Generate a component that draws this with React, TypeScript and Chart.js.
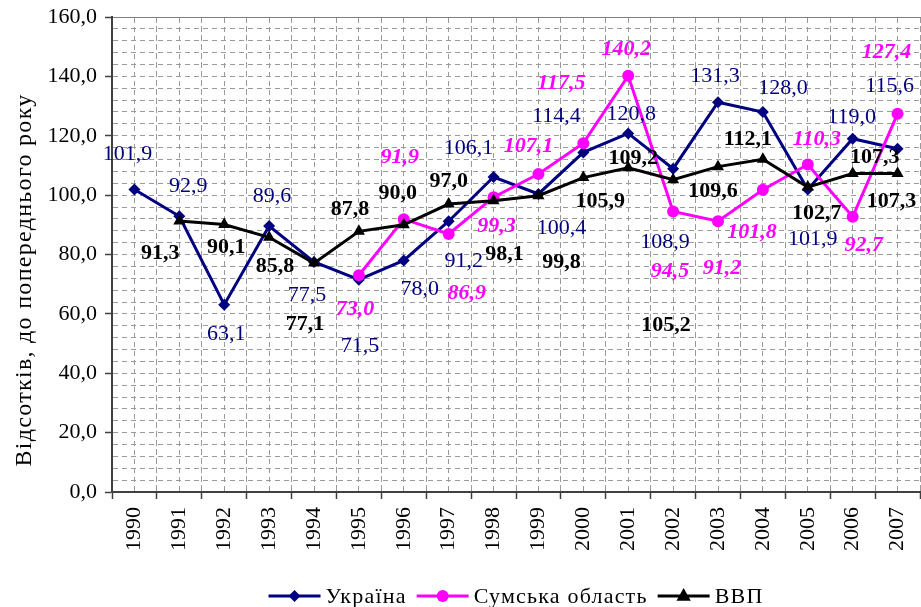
import React, { useEffect, useRef } from 'react';
import { Chart, registerables } from 'chart.js';

Chart.register(...registerables);

const years = ['1990', '1991', '1992', '1993', '1994', '1995', '1996', '1997', '1998', '1999', '2000', '2001', '2002', '2003', '2004', '2005', '2006', '2007'];

const ukraine = [101.9, 92.9, 63.1, 89.6, 77.5, 71.5, 78.0, 91.2, 106.1, 100.4, 114.4, 120.8, 108.9, 131.3, 128.0, 101.9, 119.0, 115.6];
const sumy = [null, null, null, null, null, 73.0, 91.9, 86.9, 99.3, 107.1, 117.5, 140.2, 94.5, 91.2, 101.8, 110.3, 92.7, 127.4];
const gdp = [null, 91.3, 90.1, 85.8, 77.1, 87.8, 90.0, 97.0, 98.1, 99.8, 105.9, 109.2, 105.2, 109.6, 112.1, 102.7, 107.3, 107.3];

const seriesNames = ['Україна', 'Сумська область', 'ВВП'];
const yTitle = 'Відсотків, до попереднього року';

// label offsets relative to each point (pixels)
const ukraineDx = [-7, 9, 2, 3, -7, 1, 16, 15, -25, 23, -27, 3, -8, -3, 20, 5, -1, -8];
const ukraineDy = [-35, -30, 30, -30, 33, 66, 29, 40, -29, 34, -36, -19, 74, -26, -24, 50, -22, -63];
const sumyDx = [0, 0, 0, 0, 0, -4, -4, 18, 3, -10, -22, -2, -3, 4, -11, 9, 11, -11];
const sumyDy = [0, 0, 0, 0, 0, 34, -62, 59, 29, -28, -60, -26, 60, 47, 43, -25, 29, -61];
const gdpDx = [0, -19, 2, 6, -9, -9, -6, 0, 11, 23, 17, 5, -7, -5, -15, 9, 22, -6];
const gdpDy = [0, 32, 23, 29, 61, -22, -32, -23, 54, 67, 24, -10, 146, 25, -20, 26, -16, 28];

const FONT = "'Liberation Serif', 'Times New Roman', serif";
const colors = ['#000080', '#FF00FF', '#000000'];
const GRID = '#9a9a9a';
const AXIS = '#404040';

const fmt = (v: number) => v.toFixed(1).replace('.', ',');

const labelStyles = [
  { font: `22px ${FONT}`, color: colors[0], dx: ukraineDx, dy: ukraineDy },
  { font: `italic bold 22px ${FONT}`, color: colors[1], dx: sumyDx, dy: sumyDy },
  { font: `bold 22px ${FONT}`, color: colors[2], dx: gdpDx, dy: gdpDy },
];

const pointLabelPlugin = {
  id: 'pointLabels',
  afterDatasetsDraw(chart: any) {
    const ctx = chart.ctx;
    chart.data.datasets.forEach((ds: any, di: number) => {
      const meta = chart.getDatasetMeta(di);
      const st = labelStyles[di];
      ctx.save();
      ctx.font = st.font;
      ctx.fillStyle = st.color;
      ctx.textAlign = 'center';
      ctx.textBaseline = 'middle';
      meta.data.forEach((pt: any, i: number) => {
        const v = ds.data[i];
        if (v === null || v === undefined) return;
        ctx.fillText(fmt(v), pt.x + st.dx[i], pt.y + st.dy[i]);
      });
      ctx.restore();
    });
  },
};

const yTitlePlugin = {
  id: 'yTitle',
  afterDraw(chart: any) {
    const ctx = chart.ctx;
    ctx.save();
    ctx.font = `24px ${FONT}`;
    (ctx as any).letterSpacing = '1.3px';
    ctx.fillStyle = '#000';
    ctx.textAlign = 'center';
    ctx.textBaseline = 'middle';
    ctx.translate(25, 280);
    ctx.rotate(-Math.PI / 2);
    ctx.fillText(yTitle, 0, 0);
    ctx.restore();
  },
};

function drawMarker(ctx: CanvasRenderingContext2D, style: string, x: number, y: number, r: number, color: string) {
  ctx.save();
  ctx.fillStyle = color;
  ctx.beginPath();
  if (style === 'rectRot') {
    ctx.moveTo(x, y - r);
    ctx.lineTo(x + r, y);
    ctx.lineTo(x, y + r);
    ctx.lineTo(x - r, y);
    ctx.closePath();
  } else if (style === 'circle') {
    ctx.arc(x, y, r, 0, Math.PI * 2);
  } else {
    ctx.moveTo(x, y - r);
    ctx.lineTo(x + r * 0.9, y + r * 0.6);
    ctx.lineTo(x - r * 0.9, y + r * 0.6);
    ctx.closePath();
  }
  ctx.fill();
  ctx.restore();
}

const legendPlugin = {
  id: 'customLegend',
  afterDraw(chart: any) {
    const ctx = chart.ctx;
    const styles = ['rectRot', 'circle', 'triangle'];
    const lineLen = 52;
    const gapLT = 5;
    const gapItem = 10;
    ctx.save();
    ctx.font = `22px ${FONT}`;
    (ctx as any).letterSpacing = '1.2px';
    const widths = seriesNames.map((n) => ctx.measureText(n).width);
    const total = widths.reduce((a, b) => a + b, 0) + 3 * (lineLen + gapLT) + 2 * gapItem;
    const cx = (chart.chartArea.left + chart.chartArea.right) / 2;
    let x = cx - total / 2;
    const y = 596;
    seriesNames.forEach((name, i) => {
      ctx.strokeStyle = colors[i];
      ctx.lineWidth = 3;
      ctx.beginPath();
      ctx.moveTo(x, y);
      ctx.lineTo(x + lineLen, y);
      ctx.stroke();
      drawMarker(ctx, styles[i], x + lineLen / 2, y, i === 2 ? 8 : 6, colors[i]);
      x += lineLen + gapLT;
      ctx.fillStyle = '#000';
      ctx.textAlign = 'left';
      ctx.textBaseline = 'middle';
      ctx.fillText(name, x, y + 1);
      x += widths[i] + gapItem;
    });
    ctx.restore();
  },
};

export default function App() {
  const canvasRef = useRef<HTMLCanvasElement | null>(null);

  useEffect(() => {
    if (!canvasRef.current) return;
    const chart = new Chart(canvasRef.current, {
      type: 'line',
      data: {
        labels: years,
        datasets: [
          {
            label: seriesNames[0],
            data: ukraine,
            borderColor: colors[0],
            backgroundColor: colors[0],
            borderWidth: 3,
            pointStyle: 'rectRot',
            pointRadius: 6,
            pointBorderWidth: 0,
            tension: 0,
            order: 3,
          },
          {
            label: seriesNames[1],
            data: sumy,
            borderColor: colors[1],
            backgroundColor: colors[1],
            borderWidth: 3,
            pointStyle: 'circle',
            pointRadius: 6,
            pointBorderWidth: 0,
            tension: 0,
            order: 2,
          },
          {
            label: seriesNames[2],
            data: gdp,
            borderColor: colors[2],
            backgroundColor: colors[2],
            borderWidth: 3,
            pointStyle: 'triangle',
            pointRadius: 7,
            pointBorderWidth: 0,
            tension: 0,
            order: 1,
          },
        ] as any,
      },
      options: {
        animation: false,
        responsive: false,
        devicePixelRatio: 1,
        layout: { autoPadding: false, padding: { top: 17, right: 1, left: 0, bottom: 0 } },
        plugins: {
          legend: { display: false },
          tooltip: { enabled: false },
        },
        scales: {
          x: {
            type: 'category',
            position: 'bottom',
            offset: true,
            grid: {
              offset: true,
              color: GRID,
              lineWidth: 1,
              tickColor: AXIS,
              tickLength: 7,
              tickWidth: 1.5,
            },
            border: { display: true, color: AXIS, width: 2, dash: [5, 4] },
            ticks: {
              maxRotation: 90,
              minRotation: 90,
              autoSkip: false,
              padding: 8,
              color: '#000',
              font: { family: FONT, size: 22 },
            },
            afterFit: (scale: any) => {
              scale.height = 115;
              scale.paddingLeft = 0;
              scale.paddingRight = 0;
            },
          },
          x2: {
            type: 'linear',
            position: 'top',
            min: 0,
            max: 36,
            grid: { color: GRID, lineWidth: 1, drawTicks: false },
            border: { display: true, color: '#808080', width: 1, dash: [5, 4] },
            ticks: { display: false, stepSize: 1, autoSkip: false },
            afterFit: (scale: any) => {
              scale.paddingLeft = 0;
              scale.paddingRight = 0;
            },
          },
          y: {
            type: 'linear',
            min: 0,
            max: 160,
            grid: {
              color: GRID,
              lineWidth: 1,
              tickLength: 7,
              tickWidth: 1.5,
              tickColor: (c: any) => (c.tick && Math.round(c.tick.value) % 20 === 0 ? AXIS : 'rgba(0,0,0,0)'),
            },
            border: { display: true, color: AXIS, width: 2, dash: [5, 4] },
            ticks: {
              stepSize: 4,
              autoSkip: false,
              padding: 8,
              color: '#000',
              font: { family: FONT, size: 22 },
              callback: (v: any) => (Math.round(Number(v)) % 20 === 0 ? fmt(Number(v)) : ''),
            },
            title: { display: false },
            afterFit: (scale: any) => {
              scale.width = 112;
              scale.paddingTop = 0;
              scale.paddingBottom = 0;
            },
          },
        },
      } as any,
      plugins: [pointLabelPlugin, yTitlePlugin, legendPlugin],
    });
    return () => chart.destroy();
  }, []);

  return (
    <div style={{ position: 'fixed', left: 0, top: 0, width: 921, height: 607, background: '#fff' }}>
      <canvas ref={canvasRef} width={921} height={607} style={{ display: 'block' }} />
    </div>
  );
}
